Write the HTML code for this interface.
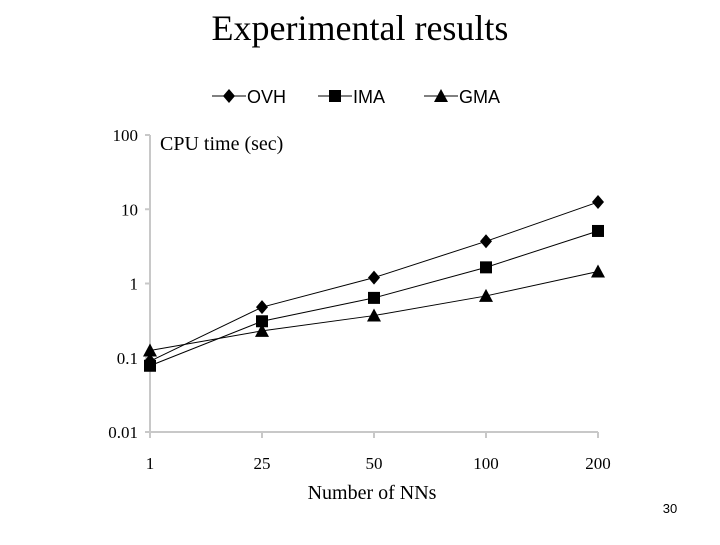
<!DOCTYPE html>
<html><head><meta charset="utf-8"><style>
body{margin:0;background:#fff;}
svg text{font-family:"Liberation Serif",serif;}
</style></head><body>
<svg width="720" height="540" viewBox="0 0 720 540">
<text x="360" y="40" font-size="36" text-anchor="middle">Experimental results</text>
<g id="legend"></g>
<g id="axes"></g>
<g id="plot"></g>
<text x="160" y="150" font-size="20">CPU time (sec)</text>
<text x="372" y="499" font-size="20" text-anchor="middle">Number of NNs</text>
<text x="670" y="513" font-size="13" text-anchor="middle" style="font-family:'Liberation Sans',sans-serif">30</text>
</svg>
<script>
const categories = ["1","25","50","100","200"];
const seriesNames = ["OVH","IMA","GMA"];
const ovh = [0.09, 0.48, 1.2, 3.7, 12.5];
const ima = [0.078, 0.31, 0.64, 1.65, 5.1];
const gma = [0.125, 0.23, 0.37, 0.68, 1.45];
const yTicks = [100, 10, 1, 0.1, 0.01];
const yTickLabels = ["100","10","1","0.1","0.01"];

const NS = "http://www.w3.org/2000/svg";
const x0 = 150, dx = 112;
const yTop = 135, yBot = 432;
function xs(i){ return x0 + i*dx; }
function ys(v){ return yBot - (Math.log10(v) + 2) / 4 * (yBot - yTop); }
function mk(tag, attrs, parent){
  const e = document.createElementNS(NS, tag);
  for (const k in attrs) e.setAttribute(k, attrs[k]);
  parent.appendChild(e); return e;
}
const axes = document.getElementById('axes');
const plot = document.getElementById('plot');
const legend = document.getElementById('legend');

const ya = mk('line', {x1:x0, y1:yTop, x2:x0, y2:yBot, stroke:'#c8c8c8', 'stroke-width':2}, axes);


const xa = mk('line', {x1:x0, y1:yBot, x2:xs(4), y2:yBot, stroke:'#c8c8c8', 'stroke-width':2}, axes);



yTicks.forEach((t, i) => {
  const y = ys(t);
  mk('line', {x1:x0-5, y1:y, x2:x0, y2:y, stroke:'#c8c8c8', 'stroke-width':2}, axes);
  const tx = mk('text', {x:x0-12, y:y+6, 'font-size':17, 'text-anchor':'end'}, axes);
  tx.textContent = yTickLabels[i];
  
  
});
categories.forEach((c, i) => {
  const x = xs(i);
  mk('line', {x1:x, y1:yBot, x2:x, y2:yBot+6, stroke:'#c8c8c8', 'stroke-width':2}, axes);
  const tx = mk('text', {x:x, y:yBot+37, 'font-size':17, 'text-anchor':'middle'}, axes);
  tx.textContent = c;
  
  
});

function marker(type, x, y, parent){
  let e;
  if (type === 0) e = mk('polygon', {points:`${x},${y-7} ${x+6},${y} ${x},${y+7} ${x-6},${y}`, fill:'#000'}, parent);
  else if (type === 1) e = mk('rect', {x:x-6, y:y-6, width:12, height:12, fill:'#000'}, parent);
  else e = mk('polygon', {points:`${x},${y-7} ${x+7},${y+6} ${x-7},${y+6}`, fill:'#000'}, parent);
  return e;
}
const all = [ovh, ima, gma];
all.forEach((vals, s) => {
  const pts = vals.map((v, i) => xs(i) + ',' + ys(v)).join(' ');
  const pl = mk('polyline', {points:pts, fill:'none', stroke:'#000', 'stroke-width':1}, plot);
  
  
  vals.forEach((v, i) => {
    const m = marker(s, xs(i), ys(v), plot);
    
    
  });
});

const legX = [212, 318, 424];
seriesNames.forEach((n, s) => {
  const g = mk('g', {}, legend);
  
  
  const x = legX[s], y = 96;
  mk('line', {x1:x, y1:y, x2:x+34, y2:y, stroke:'#000', 'stroke-width':1}, g);
  marker(s, x+17, y, g);
  const t = mk('text', {x:x+35, y:y+7, 'font-size':18}, g);
  t.style.fontFamily = "'Liberation Sans', sans-serif";
  t.textContent = n;
});
</script>
</body></html>
